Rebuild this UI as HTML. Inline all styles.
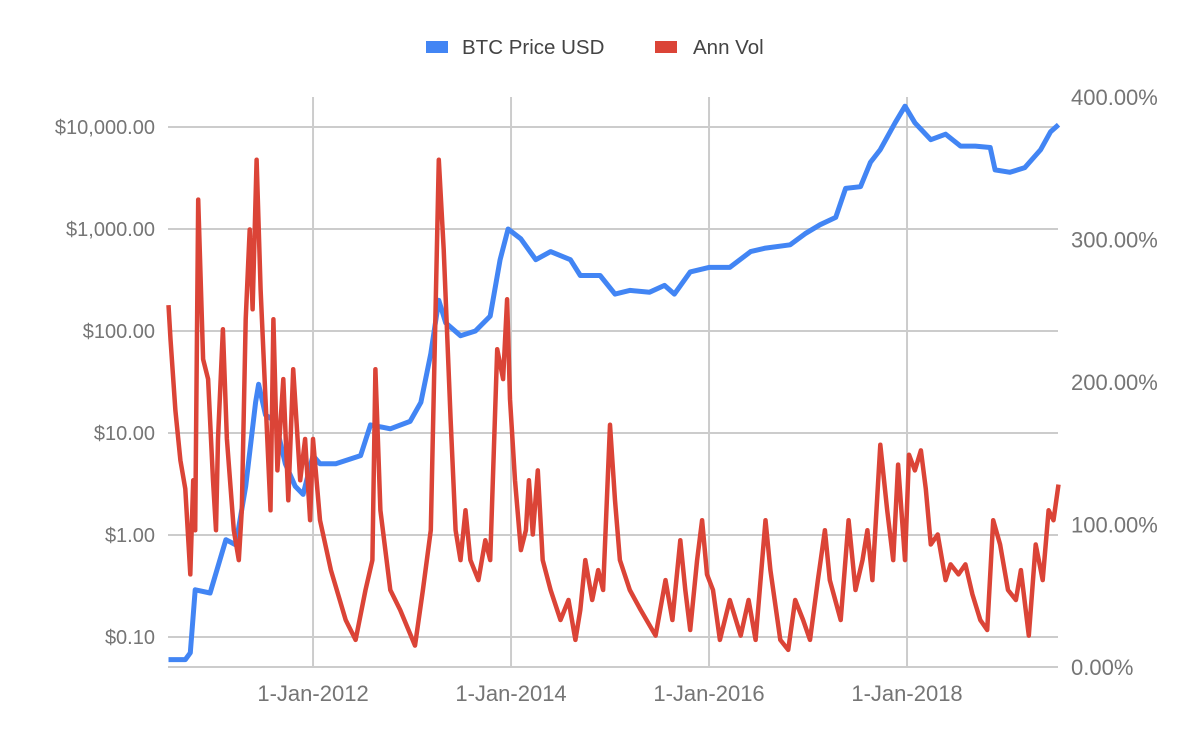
<!DOCTYPE html>
<html><head><meta charset="utf-8"><style>
body{margin:0;background:#fff;}
svg{display:block;font-family:"Liberation Sans",Arial,sans-serif;}
</style></head><body>
<svg id="chart" width="1200" height="742" viewBox="0 0 1200 742" xmlns="http://www.w3.org/2000/svg">
<rect width="1200" height="742" fill="#fff"/>
<g id="grid"></g>
<g id="axes"></g>
<g id="series"></g>
<g>
 <g><rect x="426" y="41" width="22" height="12" fill="#4285f4"/><text x="462" y="54" font-size="20.5" fill="#444">BTC Price USD</text></g>
 <g><rect x="655" y="41" width="22" height="12" fill="#db4437"/><text x="693" y="54" font-size="20.5" fill="#444">Ann Vol</text></g>
</g>
</svg>
<script>
const priceYears=[2010.54,2010.71,2010.76,2010.81,2010.96,2011.12,2011.22,2011.32,2011.42,2011.45,2011.52,2011.62,2011.72,2011.82,2011.90,2012.00,2012.07,2012.23,2012.48,2012.58,2012.78,2012.98,2013.09,2013.19,2013.27,2013.34,2013.49,2013.64,2013.79,2013.89,2013.97,2014.10,2014.25,2014.40,2014.60,2014.70,2014.90,2015.05,2015.20,2015.40,2015.55,2015.65,2015.81,2016.00,2016.21,2016.42,2016.57,2016.82,2016.97,2017.12,2017.28,2017.38,2017.53,2017.63,2017.73,2017.88,2017.98,2018.08,2018.24,2018.39,2018.54,2018.69,2018.84,2018.89,2019.04,2019.19,2019.35,2019.45,2019.53];
const priceValues=[0.06,0.06,0.07,0.29,0.27,0.9,0.8,3,20,30,15,13,5,3,2.5,6,5,5,6,12,11,13,20,60,200,120,90,100,140,500,1000,800,500,600,500,350,350,230,250,240,280,230,380,420,420,600,650,700,900,1100,1300,2500,2600,4500,6000,11000,16000,11000,7500,8500,6500,6500,6300,3800,3600,4000,6000,9000,10500];
const volYears=[2010.54,2010.56,2010.61,2010.66,2010.71,2010.76,2010.79,2010.81,2010.84,2010.89,2010.94,2010.99,2011.02,2011.04,2011.09,2011.13,2011.20,2011.25,2011.28,2011.32,2011.36,2011.39,2011.43,2011.47,2011.52,2011.57,2011.60,2011.64,2011.70,2011.75,2011.80,2011.87,2011.92,2011.97,2012.00,2012.07,2012.18,2012.33,2012.43,2012.53,2012.60,2012.63,2012.68,2012.78,2012.88,2013.03,2013.11,2013.19,2013.27,2013.32,2013.39,2013.44,2013.49,2013.54,2013.59,2013.67,2013.74,2013.79,2013.86,2013.92,2013.96,2013.99,2014.04,2014.10,2014.15,2014.18,2014.22,2014.27,2014.32,2014.40,2014.50,2014.58,2014.65,2014.70,2014.75,2014.82,2014.88,2014.93,2015.00,2015.05,2015.10,2015.20,2015.31,2015.46,2015.56,2015.63,2015.71,2015.76,2015.81,2015.88,2015.93,2015.98,2016.04,2016.11,2016.21,2016.32,2016.40,2016.47,2016.57,2016.62,2016.72,2016.80,2016.87,2016.95,2017.02,2017.10,2017.17,2017.22,2017.33,2017.41,2017.48,2017.55,2017.60,2017.65,2017.73,2017.80,2017.86,2017.91,2017.98,2018.02,2018.08,2018.14,2018.19,2018.24,2018.31,2018.39,2018.44,2018.52,2018.59,2018.66,2018.74,2018.81,2018.87,2018.94,2019.02,2019.10,2019.15,2019.23,2019.30,2019.37,2019.43,2019.48,2019.53];
const volValues=[254,230,180,145,125,65,131,96,328,216,202,131,96,160,237,160,96,75,110,244,307,251,356,265,188,110,244,138,202,117,209,131,160,103,160,103,68,33,19,54,75,209,110,54,40,15,54,96,356,293,174,96,75,110,75,61,89,75,223,202,258,188,131,82,96,131,93,138,75,54,33,47,19,40,75,47,68,54,170,117,75,54,40,22,61,33,89,54,26,75,103,65,54,19,47,22,47,19,103,68,19,12,47,33,19,61,96,61,33,103,54,75,96,61,156,110,75,142,75,149,138,152,125,86,93,61,72,65,72,51,33,26,103,86,54,47,68,22,86,61,110,103,128];
const leftTicks=[0.1,1,10,100,1000,10000];
const leftTickLabels=["$0.10","$1.00","$10.00","$100.00","$1,000.00","$10,000.00"];
const rightTicks=[0,100,200,300,400];
const rightTickLabels=["0.00%","100.00%","200.00%","300.00%","400.00%"];
const xTicks=[2012,2014,2016,2018];
const xTickLabels=["1-Jan-2012","1-Jan-2014","1-Jan-2016","1-Jan-2018"];

const NS="http://www.w3.org/2000/svg";
const L=168,R=1058,T=97,B=667;
const xMin=2010.535,xMax=2019.525;
const x=v=>L+(v-xMin)/(xMax-xMin)*(R-L);
const yL=v=>127+(4-Math.log10(v))*102;
const yR=v=>B-v/400*(B-T);
function mk(tag,attrs,parent){const e=document.createElementNS(NS,tag);for(const k in attrs)e.setAttribute(k,attrs[k]);parent.appendChild(e);return e;}
const grid=document.getElementById('grid'),axes=document.getElementById('axes'),series=document.getElementById('series');

leftTicks.forEach((t,i)=>{
  const yy=yL(t);
  const g=mk('line',{x1:L,x2:R,y1:yy,y2:yy,stroke:'#ccc','stroke-width':2},grid);
  
  
  const tx=mk('text',{x:155,y:yy+7,'text-anchor':'end','font-size':20,fill:'#757575'},axes);
  tx.textContent=leftTickLabels[i];
  
  
});
const gb=mk('line',{x1:L,x2:R,y1:B,y2:B,stroke:'#ccc','stroke-width':2},grid);


xTicks.forEach((t,i)=>{
  const xx=x(t);
  const g=mk('line',{x1:xx,x2:xx,y1:T,y2:B,stroke:'#ccc','stroke-width':2},grid);
  
  
  const tx=mk('text',{x:xx,y:701,'text-anchor':'middle','font-size':22,fill:'#757575'},axes);
  tx.textContent=xTickLabels[i];
  
  
});
rightTicks.forEach((t,i)=>{
  const tx=mk('text',{x:1071,y:yR(t)+8,'text-anchor':'start','font-size':22,fill:'#757575'},axes);
  tx.textContent=rightTickLabels[i];
  
  
});
const pp=priceYears.map((d,i)=>x(d).toFixed(1)+','+yL(priceValues[i]).toFixed(1)).join(' ');
const pl=mk('polyline',{points:pp,fill:'none',stroke:'#4285f4','stroke-width':5,'stroke-linejoin':'round'},series);


const vp=volYears.map((d,i)=>x(d).toFixed(1)+','+yR(volValues[i]).toFixed(1)).join(' ');
const vl=mk('polyline',{points:vp,fill:'none',stroke:'#db4437','stroke-width':4.5,'stroke-linejoin':'round'},series);


</script>
</body></html>
